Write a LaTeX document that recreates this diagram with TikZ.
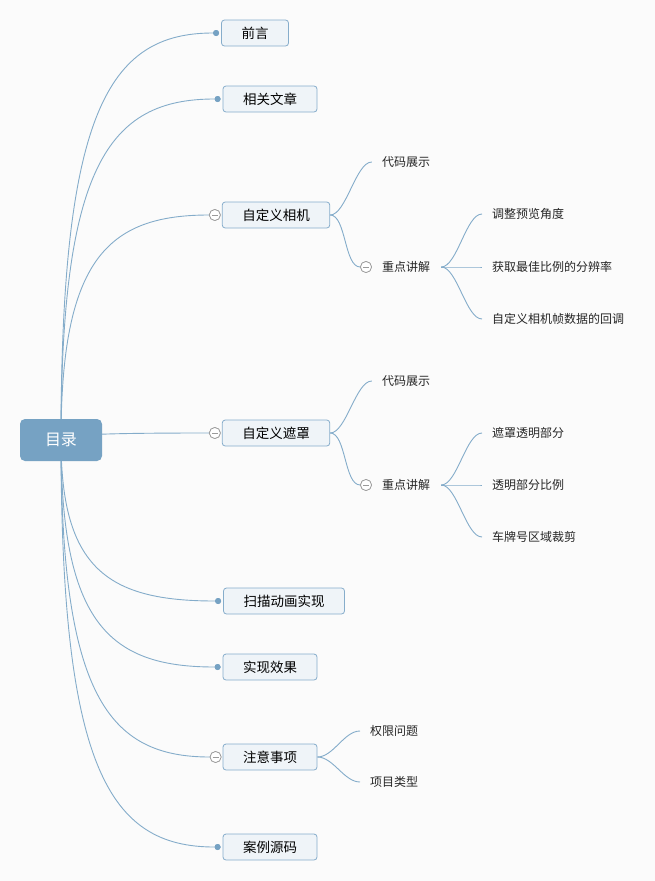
\documentclass[tikz,border=0pt]{standalone}
\usepackage{fontspec}
\setmainfont{Noto Sans CJK SC}
\usetikzlibrary{calc}
\definecolor{bgc}{HTML}{FBFBFB}
\definecolor{linec}{HTML}{84ACCA}
\definecolor{boxfill}{HTML}{EFF4F8}
\definecolor{boxdraw}{HTML}{86ADCB}
\definecolor{rootfill}{HTML}{76A2C3}
\definecolor{circd}{HTML}{9A9A9A}
\tikzset{
  topicbox/.style={draw=boxdraw, fill=boxfill, rounded corners=3pt, minimum height=26pt, inner xsep=20pt, inner ysep=0pt, font=\fontsize{13.5}{15}\selectfont, line width=0.8pt},
  rootbox/.style={fill=rootfill, rounded corners=5pt, minimum height=42pt, inner xsep=25pt, text=white, font=\fontsize{16}{18}\selectfont},
  subtxt/.style={inner xsep=10pt, inner ysep=2pt, font=\fontsize{12}{14}\selectfont, text=black!85},
  ptxt/.style={inner xsep=11pt, inner ysep=2pt, font=\fontsize{12}{14}\selectfont, text=black!85},
  dotn/.style={circle, fill=rootfill, minimum size=6pt, inner sep=0pt},
  colln/.style={circle, draw=circd, fill=white, minimum size=11pt, inner sep=0pt, line width=0.7pt,
    path picture={\draw[circd, line width=0.7pt] ([xshift=-3pt]path picture bounding box.center) -- ([xshift=3pt]path picture bounding box.center);}},
  conn/.style={draw=linec, line width=0.9pt},
}
\newcommand{\rootlink}[1]{\draw[conn] (root.center) .. controls ($(root.center |- #1)!0.2!(root.center)$) and ($(root.center |- #1)!0.3!(#1)$) .. (#1.west);}
\newcommand{\slink}[2]{\draw[conn] (#1.east) .. controls +(16,0) and +(-16,0) .. (#2.west);}
\begin{document}
\begin{tikzpicture}[x=1pt,y=-1pt]
\fill[bgc] (0,0) rectangle (655,881);
\useasboundingbox (0,0) rectangle (655,881);

% main topics
\node[topicbox] (t1) at (255,33) {前言};
\node[topicbox] (t2) at (270,99) {相关文章};
\node[topicbox] (t3) at (276,215) {自定义相机};
\node[topicbox] (t4) at (276,433) {自定义遮罩};
\node[topicbox] (t5) at (284,601) {扫描动画实现};
\node[topicbox] (t6) at (270,667) {实现效果};
\node[topicbox] (t7) at (270,757) {注意事项};
\node[topicbox] (t8) at (270,847) {案例源码};

% markers
\node[dotn] (d1) at ($(t1.west)+(-5,0)$) {};
\node[dotn] (d2) at ($(t2.west)+(-5,0)$) {};
\node[colln] (c3) at ($(t3.west)+(-7,0)$) {};
\node[colln] (c4) at ($(t4.west)+(-7,0)$) {};
\node[dotn] (d5) at ($(t5.west)+(-5,0)$) {};
\node[dotn] (d6) at ($(t6.west)+(-5,0)$) {};
\node[colln] (c7) at ($(t7.west)+(-7,0)$) {};
\node[dotn] (d8) at ($(t8.west)+(-5,0)$) {};

% root connectors (behind root)
\coordinate (root) at (61,440);
\rootlink{d1}
\rootlink{d2}
\rootlink{c3}
\rootlink{c4}
\rootlink{d5}
\rootlink{d6}
\rootlink{c7}
\rootlink{d8}
\node[rootbox] (rootn) at (61,440) {目录};
% redraw markers on top
\node[dotn] at (d1) {};
\node[dotn] at (d2) {};
\node[colln] at (c3) {};
\node[colln] at (c4) {};
\node[dotn] at (d5) {};
\node[dotn] at (d6) {};
\node[colln] at (c7) {};
\node[dotn] at (d8) {};

% 自定义相机 subtree
\node[subtxt] (a1) at (406,162) {代码展示};
\node[ptxt] (a2) at (406,267) {重点讲解};
\node[colln] (ac) at (366,267) {};
\slink{t3}{a1}
\slink{t3}{ac}
\node[colln] at (ac) {};
\node[subtxt, anchor=west] (a21) at (482,214) {调整预览角度};
\node[subtxt, anchor=west] (a22) at (482,267) {获取最佳比例的分辨率};
\node[subtxt, anchor=west] (a23) at (482,319) {自定义相机帧数据的回调};
\slink{a2}{a21}
\slink{a2}{a22}
\slink{a2}{a23}

% 自定义遮罩 subtree
\node[subtxt] (b1) at (406,381) {代码展示};
\node[ptxt] (b2) at (406,485) {重点讲解};
\node[colln] (bc) at (366,485) {};
\slink{t4}{b1}
\slink{t4}{bc}
\node[colln] at (bc) {};
\node[subtxt, anchor=west] (b21) at (482,433) {遮罩透明部分};
\node[subtxt, anchor=west] (b22) at (482,485) {透明部分比例};
\node[subtxt, anchor=west] (b23) at (482,537) {车牌号区域裁剪};
\slink{b2}{b21}
\slink{b2}{b22}
\slink{b2}{b23}

% 注意事项 subtree
\node[subtxt, anchor=west] (g1) at (360,731) {权限问题};
\node[subtxt, anchor=west] (g2) at (360,782) {项目类型};
\slink{t7}{g1}
\slink{t7}{g2}
\end{tikzpicture}
\end{document}
